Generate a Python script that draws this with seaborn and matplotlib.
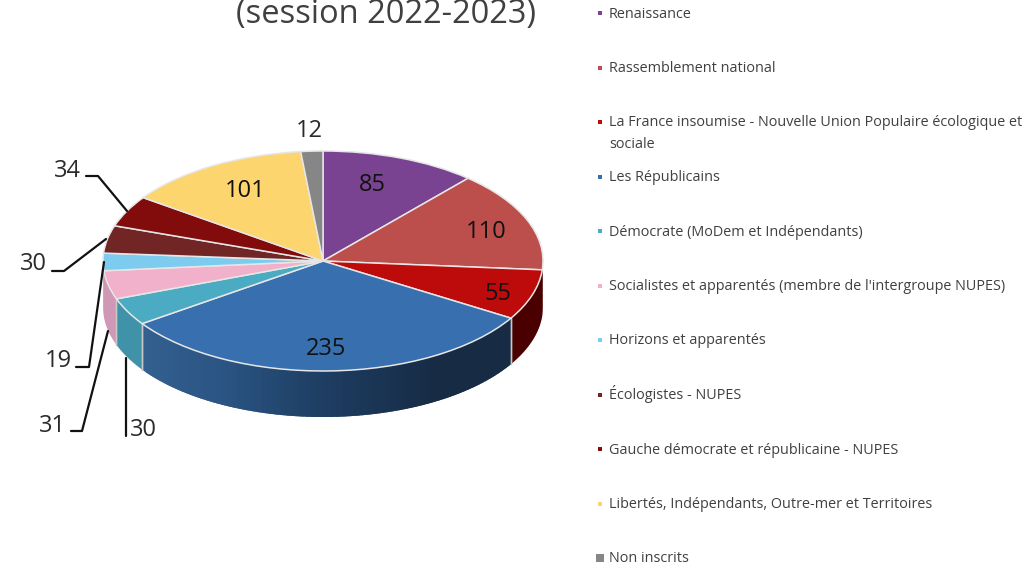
import numpy as np
import matplotlib
matplotlib.use('Agg')
import matplotlib.pyplot as plt
import seaborn as sns

groupes = ['Renaissance', 'Rassemblement national',
           'La France insoumise - Nouvelle Union Populaire écologique et\nsociale',
           'Les Républicains', 'Démocrate (MoDem et Indépendants)',
           "Socialistes et apparentés (membre de l'intergroupe NUPES)",
           'Horizons et apparentés', 'Écologistes - NUPES',
           'Gauche démocrate et républicaine - NUPES',
           'Libertés, Indépendants, Outre-mer et Territoires', 'Non inscrits']
sieges = [85, 110, 55, 235, 30, 31, 19, 30, 34, 101, 12]
couleurs = ['#7a4391', '#bc4f4b', '#bd0a0a', '#386fae', '#4babc3', '#f2b1cb',
            '#7ecbf0', '#722525', '#820b0b', '#fdd56f', '#868686']
couleurs_cote = ['#5a2f6c', '#4a0000', '#4a0000', None, '#3f92a8', '#cf98b4',
                 '#cf98b4', '#501a1a', '#5a0808', '#c0a050', '#666666']

sns.set_theme(style='white')
plt.rcParams['font.family'] = ['Open Sans', 'DejaVu Sans']

W, H = 1027, 568
CX, CY, RX, RY, DEPTH = 323, 261, 220, 110, 46

fig = plt.figure(figsize=(W / 100, H / 100), dpi=100)

# the pie lives in a squashed axes so that the circle turns into an ellipse
ax = fig.add_axes([0, 0, 1, 1])
ax.pie(sieges, colors=couleurs, startangle=90, counterclock=False, radius=1,
       wedgeprops={'edgecolor': '#e6e6e6', 'linewidth': 1.1, 'zorder': 5})
ax.set_aspect('auto')
ax.set_xlim(-CX / RX, (W - CX) / RX)
ax.set_ylim((CY - H) / RY, CY / RY)
ax.axis('off')

# side wall of the disc, from the same cumulative angles as the pie
depth = DEPTH / RY
bornes = np.concatenate([[0], np.cumsum(sieges)]) / sum(sieges) * 360
degrade = sns.blend_palette(['#33618f', '#2a5483', '#1d3c60', '#172b45', '#172b45'], 70)


def mur(a0, a1, color):
    t = np.radians(np.linspace(a0, a1, 30))
    x, y = np.sin(t), np.cos(t)
    ax.fill(np.r_[x, x[::-1]], np.r_[y, y[::-1] - depth], color=color, lw=0, zorder=1)


for i in range(len(sieges)):
    a0, a1 = max(bornes[i], 90), min(bornes[i + 1], 270)
    if a1 <= a0:
        continue
    if groupes[i] == 'Les Républicains':
        pas = np.linspace(a1, a0, len(degrade) + 1)
        # each strip runs a bit under the next one, otherwise seams show
        for j, c in enumerate(degrade):
            mur(max(pas[j + 1] - 1.5, a0), pas[j], c)
    else:
        mur(a0, a1, couleurs_cote[i])
    for a in (a0, a1):
        if 100 < a < 260:
            s, c = np.sin(np.radians(a)), np.cos(np.radians(a))
            ax.plot([s, s], [c, c - depth], color='#c8c8c8', lw=1, zorder=2)

# overlay in pixels for labels, leaders and legend
px = fig.add_axes([0, 0, 1, 1])
px.set_xlim(0, W)
px.set_ylim(H, 0)
px.axis('off')
px.patch.set_alpha(0)

px.text(386.5, 15, '(session 2022-2023)', fontsize=23.5, color='#404040', ha='center', va='center')

etiquettes_dedans = {0: (372, 185), 1: (486, 232), 2: (498, 294), 3: (326, 349), 9: (245, 191)}
for i, (x, y) in etiquettes_dedans.items():
    px.text(x, y, str(sieges[i]), fontsize=17, color='#111111', ha='center', va='center')

etiquettes_dehors = {10: (309, 131), 8: (67, 171), 7: (33, 264), 6: (58, 361), 5: (52, 426), 4: (143, 430)}
for i, (x, y) in etiquettes_dehors.items():
    px.text(x, y, str(sieges[i]), fontsize=17, color='#2b2b2b', ha='center', va='center')

leaders = [([86, 98, 127], [176, 176, 211]),
           ([52, 64, 106], [271, 271, 239]),
           ([76, 89, 104], [367, 367, 262]),
           ([71, 82, 108], [431, 431, 331]),
           ([126, 126], [436, 358])]
for xs, ys in leaders:
    px.plot(xs, ys, color='#111111', lw=1.6)

for i, nom in enumerate(groupes):
    y = 13 + i * 54.5
    taille = 40 if nom == 'Non inscrits' else 12
    px.scatter([600], [y], marker='s', s=taille, color=couleurs[i], linewidths=0)
    # baseline alignment so accents do not push a row down
    for k, ligne in enumerate(nom.split('\n')):
        px.text(609, y + 4.5 + 22 * k, ligne, fontsize=10.4, color='#404040', ha='left', va='baseline')

fig.savefig('out.png', dpi=100)
